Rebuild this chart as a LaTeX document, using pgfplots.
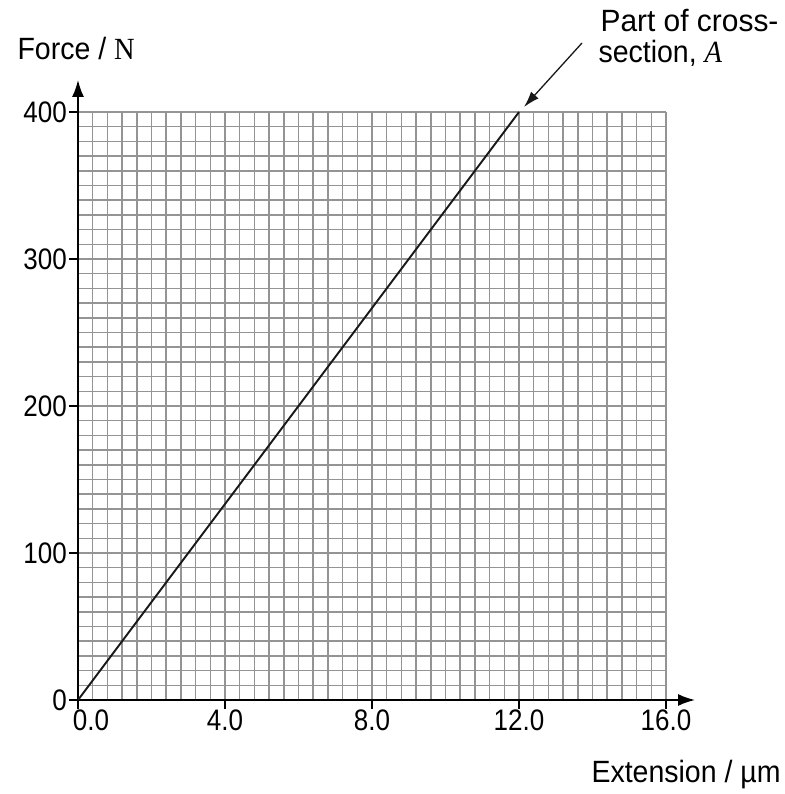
\documentclass[border=0pt]{standalone}
\usepackage{pgfplots}
\pgfplotsset{compat=1.18}
\usepackage{fontspec}
\setmainfont{Liberation Sans}
\newfontfamily\serif{Liberation Serif}
\usetikzlibrary{arrows.meta}
\newcommand{\tl}[1]{\scalebox{1}[1.14]{#1}}
\begin{document}
\begin{tikzpicture}
\begin{axis}[
  at={(0pt,0pt)}, anchor=south west,
  scale only axis, width=588pt, height=588pt,
  xmin=0, xmax=16, ymin=0, ymax=400,
  set layers,
  axis lines=left,
  axis line style={line width=1.7pt, black},
  x axis line style={-{Latex[length=17pt,width=12pt]}, shorten >=-29pt},
  y axis line style={-{Latex[length=17pt,width=12pt]}, shorten >=-32pt},
  xtick={0,4,8,12,16}, ytick={0,100,200,300,400},
  minor x tick num=9, minor y tick num=9,
  grid=both,
  major grid style={black!42, line width=1.5pt},
  minor grid style={black!42, line width=1.5pt},
  tick align=outside, major tick length=9pt, minor tick length=0pt,
  major tick style={black, line width=1.1pt},
  xticklabels={{\hspace*{26pt}\tl{0.0}},\tl{4.0},\tl{8.0},\tl{12.0},\tl{16.0}},
  yticklabels={\tl{0},\tl{100},\tl{200},\tl{300},\tl{400}},
  ticklabel style={font=\fontsize{26}{30}\selectfont, text=black},
  xticklabel style={inner sep=1pt},
  yticklabel style={inner sep=2pt},
]
\addplot[black!90, line width=1.9pt] coordinates {(0,0) (12,400)};
\end{axis}
\node[anchor=base west, font=\fontsize{28.5}{31}\selectfont, text=black] at (-64pt,640pt) {\scalebox{1}[1.08]{Force / {\serif N}}};
\node[anchor=base west, font=\fontsize{28.5}{31}\selectfont, text=black] at (519pt,668pt) {\scalebox{1.05}[1.08]{Part of cross-}};
\node[anchor=base west, font=\fontsize{28.5}{31}\selectfont, text=black] at (517pt,637pt) {\scalebox{1}[1.08]{section, {\serif\itshape A}}};
\node[anchor=base west, font=\fontsize{28.5}{31}\selectfont, text=black] at (510pt,-82pt) {\scalebox{1}[1.08]{Extension / µm}};
\draw[black!90, line width=1.3pt, -{Latex[length=16pt,width=10pt]}] (504pt,657pt) -- (446pt,593pt);
\pgfresetboundingbox
\path[use as bounding box] (-78pt,-94pt) rectangle (706pt,700pt);
\end{tikzpicture}
\end{document}
